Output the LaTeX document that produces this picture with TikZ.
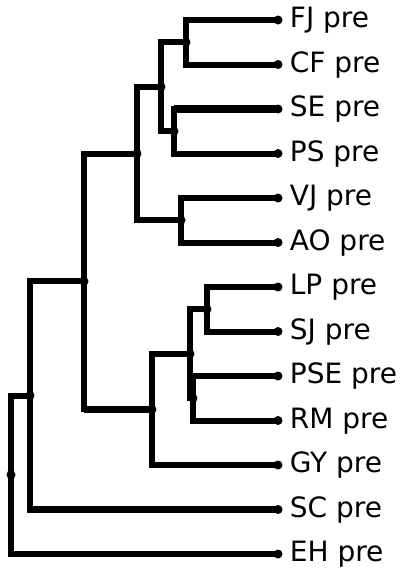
\documentclass[tikz,border=0pt]{standalone}
\usepackage{fontspec}
\setmainfont{DejaVu Sans}
\usetikzlibrary{positioning}
\tikzstyle{lf}=[circle,fill=black,inner sep=0pt,minimum size=9pt]
\tikzstyle{jn}=[circle,fill=black,inner sep=0pt,minimum size=9pt]
\tikzstyle{lbl}=[inner sep=0pt,font=\fontsize{28}{30}\selectfont,text height=21.3pt,text depth=5.9pt,anchor=west]
\tikzstyle{br}=[draw=black,line width=6pt,to path={(\tikztostart.center) |- (\tikztotarget.center)}]
\tikzstyle{hz}=[draw=black,line width=7.5pt,to path={(\tikztostart.center |- \tikztotarget.center) -- (\tikztotarget.center)}]

\begin{document}
\begin{tikzpicture}[x=1pt,y=-1pt]
    \useasboundingbox (0,0) rectangle (409,571);
    % leaves
    \draw (278,20) node[lf] (fj) {};
    \draw (278,64.5) node[lf] (cf) {};
    \draw (278,109) node[lf] (se) {};
    \draw (278,153.5) node[lf] (ps) {};
    \draw (278,198) node[lf] (vj) {};
    \draw (278,242.5) node[lf] (ao) {};
    \draw (278,287) node[lf] (lp) {};
    \draw (278,331.5) node[lf] (sj) {};
    \draw (278,376) node[lf] (pse) {};
    \draw (278,420.5) node[lf] (rm) {};
    \draw (278,465) node[lf] (gy) {};
    \draw (278,509.5) node[lf] (sc) {};
    \draw (278,554) node[lf] (eh) {};
    % joins
    \draw (186,42.25) node[jn] (fjcf) {};
    \draw (174,131.25) node[jn] (seps) {};
    \draw (161,86.75) node[jn] (a1) {};
    \draw (181,220.25) node[jn] (vjao) {};
    \draw (137,153.5) node[jn] (a2) {};
    \draw (207,309.25) node[jn] (lpsj) {};
    \draw (193,398.25) node[jn] (pserm) {};
    \draw (190,353.75) node[jn] (b1) {};
    \draw (152,409.4) node[jn] (b2) {};
    \draw (84,281.4) node[jn] (c1) {};
    \draw (30,395.5) node[jn] (c2) {};
    \draw (11,474.7) node[jn] (root) {};
    \path
        (fjcf) edge[br] (fj)
        (fjcf) edge[br] (cf)
        (seps) edge[br] (se)
        (seps) edge[hz] (se)
        (seps) edge[br] (ps)
        (a1) edge[br] (fjcf)
        (a1) edge[br] (seps)
        (vjao) edge[br] (vj)
        (vjao) edge[br] (ao)
        (a2) edge[br] (a1)
        (a2) edge[br] (vjao)
        (lpsj) edge[br] (lp)
        (lpsj) edge[br] (sj)
        (pserm) edge[br] (pse)
        (pserm) edge[br] (rm)
        (b1) edge[br] (lpsj)
        (b1) edge[br] (pserm)
        (b2) edge[br] (b1)
        (b2) edge[br] (gy)
        (c1) edge[br] (a2)
        (c1) edge[br] (b2)
        (c1) edge[hz] (b2)
        (c2) edge[br] (c1)
        (c2) edge[br] (sc)
        (c2) edge[hz] (sc)
        (root) edge[br] (c2)
        (root) edge[br] (eh)
    ;
    % labels
    \node[lbl,right=7pt of fj] (tfj) {FJ pre};
    \node[lbl,right=7pt of cf] (tcf) {CF pre};
    \node[lbl,right=7pt of se] (tse) {SE pre};
    \node[lbl,right=7pt of ps] (tps) {PS pre};
    \node[lbl,right=7pt of vj] (tvj) {VJ pre};
    \node[lbl,right=7pt of ao] (tao) {AO pre};
    \node[lbl,right=7pt of lp] (tlp) {LP pre};
    \node[lbl,right=7pt of sj] (tsj) {SJ pre};
    \node[lbl,right=7pt of pse] (tpse) {PSE pre};
    \node[lbl,right=7pt of rm] (trm) {RM pre};
    \node[lbl,right=7pt of gy] (tgy) {GY pre};
    \node[lbl,right=7pt of sc] (tsc) {SC pre};
    \node[lbl,right=7pt of eh] (teh) {EH pre};
\end{tikzpicture}
\end{document}
